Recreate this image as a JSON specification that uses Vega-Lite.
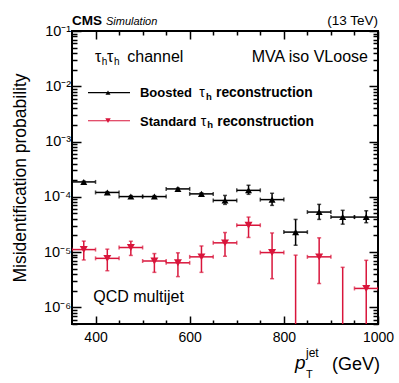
{
  "$schema": "https://vega.github.io/schema/vega-lite/v6.json",
  "width": 306,
  "height": 293,
  "autosize": "none",
  "padding": {"left": 72, "top": 31, "right": 21, "bottom": 59},
  "background": "white",
  "config": {
    "font": "Liberation Sans",
    "view": {"stroke": "black", "strokeWidth": 2},
    "axis": {"grid": false, "domain": false, "tickColor": "black", "tickWidth": 1.5, "labelColor": "black", "titleColor": "black", "labelFont": "Liberation Sans", "titleFont": "Liberation Sans", "labelOverlap": false, "labelFlush": false},
    "text": {"font": "Liberation Sans", "color": "black"}
  },
  "datasets": {
    "pts": [
      {"series": "Boosted", "x": 375, "xlo": 350, "xhi": 400, "y": 1.86e-4, "ylo": 1.80e-4, "yhi": 1.92e-4},
      {"series": "Boosted", "x": 425, "xlo": 400, "xhi": 450, "y": 1.20e-4, "ylo": 1.16e-4, "yhi": 1.24e-4},
      {"series": "Boosted", "x": 475, "xlo": 450, "xhi": 500, "y": 1.01e-4, "ylo": 0.97e-4, "yhi": 1.05e-4},
      {"series": "Boosted", "x": 525, "xlo": 500, "xhi": 550, "y": 1.01e-4, "ylo": 0.97e-4, "yhi": 1.05e-4},
      {"series": "Boosted", "x": 575, "xlo": 550, "xhi": 600, "y": 1.39e-4, "ylo": 1.34e-4, "yhi": 1.44e-4},
      {"series": "Boosted", "x": 625, "xlo": 600, "xhi": 650, "y": 1.13e-4, "ylo": 1.08e-4, "yhi": 1.18e-4},
      {"series": "Boosted", "x": 675, "xlo": 650, "xhi": 700, "y": 8.6e-5, "ylo": 7.3e-5, "yhi": 1.06e-4},
      {"series": "Boosted", "x": 725, "xlo": 700, "xhi": 750, "y": 1.31e-4, "ylo": 1.11e-4, "yhi": 1.62e-4},
      {"series": "Boosted", "x": 775, "xlo": 750, "xhi": 800, "y": 8.9e-5, "ylo": 7.0e-5, "yhi": 1.16e-4},
      {"series": "Boosted", "x": 825, "xlo": 800, "xhi": 850, "y": 2.3e-5, "ylo": 1.33e-5, "yhi": 3.9e-5},
      {"series": "Boosted", "x": 875, "xlo": 850, "xhi": 900, "y": 5.3e-5, "ylo": 3.9e-5, "yhi": 7.3e-5},
      {"series": "Boosted", "x": 925, "xlo": 900, "xhi": 950, "y": 4.3e-5, "ylo": 3.2e-5, "yhi": 5.7e-5},
      {"series": "Boosted", "x": 975, "xlo": 950, "xhi": 1000, "y": 4.3e-5, "ylo": 3.4e-5, "yhi": 5.6e-5},
      {"series": "Standard", "x": 375, "xlo": 350, "xhi": 400, "y": 1.11e-5, "ylo": 7.2e-6, "yhi": 1.58e-5},
      {"series": "Standard", "x": 425, "xlo": 400, "xhi": 450, "y": 7.7e-6, "ylo": 4.6e-6, "yhi": 1.13e-5},
      {"series": "Standard", "x": 475, "xlo": 450, "xhi": 500, "y": 1.21e-5, "ylo": 8.7e-6, "yhi": 1.57e-5},
      {"series": "Standard", "x": 525, "xlo": 500, "xhi": 550, "y": 6.9e-6, "ylo": 4.3e-6, "yhi": 9.4e-6},
      {"series": "Standard", "x": 575, "xlo": 550, "xhi": 600, "y": 6.4e-6, "ylo": 3.6e-6, "yhi": 9.7e-6},
      {"series": "Standard", "x": 625, "xlo": 600, "xhi": 650, "y": 8.2e-6, "ylo": 4.3e-6, "yhi": 1.29e-5},
      {"series": "Standard", "x": 675, "xlo": 650, "xhi": 700, "y": 1.47e-5, "ylo": 8.4e-6, "yhi": 2.26e-5},
      {"series": "Standard", "x": 725, "xlo": 700, "xhi": 750, "y": 3.06e-5, "ylo": 1.84e-5, "yhi": 4.3e-5},
      {"series": "Standard", "x": 775, "xlo": 750, "xhi": 800, "y": 9.8e-6, "ylo": 3.3e-6, "yhi": 2.22e-5},
      {"series": "Standard", "x": 825, "xlo": 800, "xhi": 850, "y": null, "ylo": 1e-8, "yhi": 8.8e-6},
      {"series": "Standard", "x": 875, "xlo": 850, "xhi": 900, "y": 8.2e-6, "ylo": 2.7e-6, "yhi": 1.81e-5},
      {"series": "Standard", "x": 925, "xlo": 900, "xhi": 950, "y": null, "ylo": 1e-8, "yhi": 5.3e-6},
      {"series": "Standard", "x": 975, "xlo": 950, "xhi": 1000, "y": 2.2e-6, "ylo": 1e-8, "yhi": 7.1e-6}
    ]
  },
  "resolve": {"axis": {"x": "independent", "y": "independent"}},
  "layer": [
    {
      "data": {"name": "pts"},
      "mark": {"type": "rule", "strokeWidth": 1.5, "clip": true},
      "encoding": {
        "x": {"field": "xlo", "type": "quantitative", "scale": {"domain": [350, 1000], "nice": false, "zero": false},
          "axis": {"orient": "bottom", "values": [400,450,500,550,600,650,700,750,800,850,900,950,1000], "format": "d",
            "tickSize": {"condition": {"test": "datum.value % 200 == 0", "value": -8}, "value": -4},
            "labelExpr": "datum.value % 200 == 0 ? datum.label : ''", "labelPadding": 14.7, "labelFontSize": 14, "title": null}},
        "x2": {"field": "xhi"},
        "y": {"field": "y", "type": "quantitative", "scale": {"type": "log", "domain": [5e-7, 0.1], "nice": false},
          "axis": {"orient": "left",
            "values": [5e-7,6e-7,7e-7,8e-7,9e-7,1e-6,2e-6,3e-6,4e-6,5e-6,6e-6,7e-6,8e-6,9e-6,1e-5,2e-5,3e-5,4e-5,5e-5,6e-5,7e-5,8e-5,9e-5,1e-4,2e-4,3e-4,4e-4,5e-4,6e-4,7e-4,8e-4,9e-4,1e-3,2e-3,3e-3,4e-3,5e-3,6e-3,7e-3,8e-3,9e-3,0.01,0.02,0.03,0.04,0.05,0.06,0.07,0.08,0.09,0.1],
            "tickSize": {"condition": {"test": "abs(log(datum.value)/LN10 - round(log(datum.value)/LN10)) < 0.01", "value": -9}, "value": -5},
            "labelExpr": "abs(log(datum.value)/LN10 - round(log(datum.value)/LN10)) < 0.01 ? '10' + ['⁰','⁻¹','⁻²','⁻³','⁻⁴','⁻⁵','⁻⁶','⁻⁷'][-round(log(datum.value)/LN10)] : ''",
            "labelPadding": 10.3, "labelFontSize": 14.5,
            "title": "Misidentification probability", "titleFontSize": 17.5, "titleFontWeight": "normal", "titleX": -47, "titleBaseline": "alphabetic", "titleAngle": 270}},
        "color": {"field": "series", "type": "nominal", "scale": {"domain": ["Boosted", "Standard"], "range": ["black", "#d9153b"]}, "legend": null}
      }
    },
    {
      "data": {"name": "pts"},
      "mark": {"type": "rule", "strokeWidth": 1.5, "clip": true},
      "encoding": {
        "x": {"field": "x", "type": "quantitative", "scale": {"domain": [350, 1000], "nice": false, "zero": false}, "axis": null},
        "y": {"field": "ylo", "type": "quantitative", "scale": {"type": "log", "domain": [5e-7, 0.1], "nice": false}, "axis": null},
        "y2": {"field": "yhi"},
        "color": {"field": "series", "type": "nominal", "scale": {"domain": ["Boosted", "Standard"], "range": ["black", "#d9153b"]}, "legend": null}
      }
    },
    {
      "data": {"name": "pts"},
      "mark": {"type": "tick", "orient": "horizontal", "size": 4, "thickness": 1.5, "clip": true},
      "encoding": {
        "x": {"field": "x", "type": "quantitative", "scale": {"domain": [350, 1000], "nice": false, "zero": false}, "axis": null},
        "y": {"field": "yhi", "type": "quantitative", "scale": {"type": "log", "domain": [5e-7, 0.1], "nice": false}, "axis": null},
        "color": {"field": "series", "type": "nominal", "scale": {"domain": ["Boosted", "Standard"], "range": ["black", "#d9153b"]}, "legend": null}
      }
    },
    {
      "data": {"name": "pts"},
      "mark": {"type": "tick", "orient": "horizontal", "size": 4, "thickness": 1.5, "clip": true},
      "encoding": {
        "x": {"field": "x", "type": "quantitative", "scale": {"domain": [350, 1000], "nice": false, "zero": false}, "axis": null},
        "y": {"field": "ylo", "type": "quantitative", "scale": {"type": "log", "domain": [5e-7, 0.1], "nice": false}, "axis": null},
        "color": {"field": "series", "type": "nominal", "scale": {"domain": ["Boosted", "Standard"], "range": ["black", "#d9153b"]}, "legend": null}
      }
    },
    {
      "data": {"name": "pts"},
      "mark": {"type": "tick", "orient": "vertical", "size": 4, "thickness": 1.5, "clip": true},
      "encoding": {
        "x": {"field": "xlo", "type": "quantitative", "scale": {"domain": [350, 1000], "nice": false, "zero": false}, "axis": null},
        "y": {"field": "y", "type": "quantitative", "scale": {"type": "log", "domain": [5e-7, 0.1], "nice": false}, "axis": null},
        "color": {"field": "series", "type": "nominal", "scale": {"domain": ["Boosted", "Standard"], "range": ["black", "#d9153b"]}, "legend": null}
      }
    },
    {
      "data": {"name": "pts"},
      "mark": {"type": "tick", "orient": "vertical", "size": 4, "thickness": 1.5, "clip": true},
      "encoding": {
        "x": {"field": "xhi", "type": "quantitative", "scale": {"domain": [350, 1000], "nice": false, "zero": false}, "axis": null},
        "y": {"field": "y", "type": "quantitative", "scale": {"type": "log", "domain": [5e-7, 0.1], "nice": false}, "axis": null},
        "color": {"field": "series", "type": "nominal", "scale": {"domain": ["Boosted", "Standard"], "range": ["black", "#d9153b"]}, "legend": null}
      }
    },
    {
      "data": {"name": "pts"},
      "mark": {"type": "point", "filled": true, "opacity": 1, "clip": true},
      "encoding": {
        "x": {"field": "x", "type": "quantitative", "scale": {"domain": [350, 1000], "nice": false, "zero": false}, "axis": null},
        "y": {"field": "y", "type": "quantitative", "scale": {"type": "log", "domain": [5e-7, 0.1], "nice": false}, "axis": null},
        "color": {"field": "series", "type": "nominal", "scale": {"domain": ["Boosted", "Standard"], "range": ["black", "#d9153b"]}, "legend": null},
        "shape": {"field": "series", "type": "nominal", "scale": {"domain": ["Boosted", "Standard"], "range": ["triangle-up", "triangle-down"]}, "legend": null},
        "size": {"field": "series", "type": "nominal", "scale": {"domain": ["Boosted", "Standard"], "range": [49, 64]}, "legend": null}
      }
    },
    {
      "data": {"name": "pts"},
      "mark": {"type": "point", "opacity": 0},
      "encoding": {
        "x": {"field": "x", "type": "quantitative", "scale": {"domain": [350, 1000], "nice": false, "zero": false},
          "axis": {"orient": "top", "values": [400,450,500,550,600,650,700,750,800,850,900,950,1000],
            "tickSize": {"condition": {"test": "datum.value % 200 == 0", "value": -8}, "value": -4}, "labels": false, "title": null}},
        "y": {"field": "yhi", "type": "quantitative", "scale": {"type": "log", "domain": [5e-7, 0.1], "nice": false},
          "axis": {"orient": "right",
            "values": [5e-7,6e-7,7e-7,8e-7,9e-7,1e-6,2e-6,3e-6,4e-6,5e-6,6e-6,7e-6,8e-6,9e-6,1e-5,2e-5,3e-5,4e-5,5e-5,6e-5,7e-5,8e-5,9e-5,1e-4,2e-4,3e-4,4e-4,5e-4,6e-4,7e-4,8e-4,9e-4,1e-3,2e-3,3e-3,4e-3,5e-3,6e-3,7e-3,8e-3,9e-3,0.01,0.02,0.03,0.04,0.05,0.06,0.07,0.08,0.09,0.1],
            "tickSize": {"condition": {"test": "abs(log(datum.value)/LN10 - round(log(datum.value)/LN10)) < 0.01", "value": -9}, "value": -5}, "labels": false, "title": null}}
      }
    },
    {
      "data": {"values": [{}]},
      "mark": {"type": "rule", "strokeWidth": 1.2, "color": "black"},
      "encoding": {
        "x": {"datum": 384, "type": "quantitative", "scale": {"domain": [350, 1000], "nice": false, "zero": false}, "axis": null},
        "x2": {"datum": 473.2},
        "y": {"datum": 0.00766, "type": "quantitative", "scale": {"type": "log", "domain": [5e-7, 0.1], "nice": false}, "axis": null}
      }
    },
    {
      "data": {"values": [{}]},
      "mark": {"type": "point", "shape": "triangle-up", "filled": true, "opacity": 1, "size": 25, "color": "black"},
      "encoding": {
        "x": {"datum": 426.5, "type": "quantitative", "scale": {"domain": [350, 1000], "nice": false, "zero": false}, "axis": null},
        "y": {"datum": 0.00766, "type": "quantitative", "scale": {"type": "log", "domain": [5e-7, 0.1], "nice": false}, "axis": null}
      }
    },
    {
      "data": {"values": [{}]},
      "mark": {"type": "rule", "strokeWidth": 1.2, "color": "#d9153b"},
      "encoding": {
        "x": {"datum": 384, "type": "quantitative", "scale": {"domain": [350, 1000], "nice": false, "zero": false}, "axis": null},
        "x2": {"datum": 473.2},
        "y": {"datum": 0.00238, "type": "quantitative", "scale": {"type": "log", "domain": [5e-7, 0.1], "nice": false}, "axis": null}
      }
    },
    {
      "data": {"values": [{}]},
      "mark": {"type": "point", "shape": "triangle-down", "filled": true, "opacity": 1, "size": 30, "color": "#d9153b"},
      "encoding": {
        "x": {"datum": 426.5, "type": "quantitative", "scale": {"domain": [350, 1000], "nice": false, "zero": false}, "axis": null},
        "y": {"datum": 0.00238, "type": "quantitative", "scale": {"type": "log", "domain": [5e-7, 0.1], "nice": false}, "axis": null}
      }
    },
    {"data": {"values": [{}]}, "mark": {"type": "text", "align": "left", "baseline": "alphabetic", "fontSize": 13.5, "fontWeight": "bold"},
      "encoding": {"x": {"datum": 350, "type": "quantitative", "scale": {"domain": [350, 1000], "nice": false, "zero": false}, "axis": null}, "y": {"datum": 0.1284, "type": "quantitative", "scale": {"type": "log", "domain": [5e-7, 0.1], "nice": false}, "axis": null}, "text": {"value": "CMS"}}},
    {"data": {"values": [{}]}, "mark": {"type": "text", "align": "left", "baseline": "alphabetic", "fontSize": 11, "fontStyle": "italic"},
      "encoding": {"x": {"datum": 422.2, "type": "quantitative", "scale": {"domain": [350, 1000], "nice": false, "zero": false}, "axis": null}, "y": {"datum": 0.1284, "type": "quantitative", "scale": {"type": "log", "domain": [5e-7, 0.1], "nice": false}, "axis": null}, "text": {"value": "Simulation"}}},
    {"data": {"values": [{}]}, "mark": {"type": "text", "align": "right", "baseline": "alphabetic", "fontSize": 13.5},
      "encoding": {"x": {"datum": 1000, "type": "quantitative", "scale": {"domain": [350, 1000], "nice": false, "zero": false}, "axis": null}, "y": {"datum": 0.1284, "type": "quantitative", "scale": {"type": "log", "domain": [5e-7, 0.1], "nice": false}, "axis": null}, "text": {"value": "(13 TeV)"}}},
    {"data": {"values": [{}]}, "mark": {"type": "text", "align": "left", "baseline": "alphabetic", "fontSize": 16},
      "encoding": {"x": {"datum": 398.9, "type": "quantitative", "scale": {"domain": [350, 1000], "nice": false, "zero": false}, "axis": null}, "y": {"datum": 0.0275, "type": "quantitative", "scale": {"type": "log", "domain": [5e-7, 0.1], "nice": false}, "axis": null}, "text": {"value": "τ"}}},
    {"data": {"values": [{}]}, "mark": {"type": "text", "align": "left", "baseline": "alphabetic", "fontSize": 10},
      "encoding": {"x": {"datum": 413.1, "type": "quantitative", "scale": {"domain": [350, 1000], "nice": false, "zero": false}, "axis": null}, "y": {"datum": 0.02377, "type": "quantitative", "scale": {"type": "log", "domain": [5e-7, 0.1], "nice": false}, "axis": null}, "text": {"value": "h"}}},
    {"data": {"values": [{}]}, "mark": {"type": "text", "align": "left", "baseline": "alphabetic", "fontSize": 16},
      "encoding": {"x": {"datum": 424.3, "type": "quantitative", "scale": {"domain": [350, 1000], "nice": false, "zero": false}, "axis": null}, "y": {"datum": 0.0275, "type": "quantitative", "scale": {"type": "log", "domain": [5e-7, 0.1], "nice": false}, "axis": null}, "text": {"value": "τ"}}},
    {"data": {"values": [{}]}, "mark": {"type": "text", "align": "left", "baseline": "alphabetic", "fontSize": 10},
      "encoding": {"x": {"datum": 439.2, "type": "quantitative", "scale": {"domain": [350, 1000], "nice": false, "zero": false}, "axis": null}, "y": {"datum": 0.02377, "type": "quantitative", "scale": {"type": "log", "domain": [5e-7, 0.1], "nice": false}, "axis": null}, "text": {"value": "h"}}},
    {"data": {"values": [{}]}, "mark": {"type": "text", "align": "left", "baseline": "alphabetic", "fontSize": 16},
      "encoding": {"x": {"datum": 467.5, "type": "quantitative", "scale": {"domain": [350, 1000], "nice": false, "zero": false}, "axis": null}, "y": {"datum": 0.0275, "type": "quantitative", "scale": {"type": "log", "domain": [5e-7, 0.1], "nice": false}, "axis": null}, "text": {"value": "channel"}}},
    {"data": {"values": [{}]}, "mark": {"type": "text", "align": "right", "baseline": "alphabetic", "fontSize": 16},
      "encoding": {"x": {"datum": 978.7, "type": "quantitative", "scale": {"domain": [350, 1000], "nice": false, "zero": false}, "axis": null}, "y": {"datum": 0.0275, "type": "quantitative", "scale": {"type": "log", "domain": [5e-7, 0.1], "nice": false}, "axis": null}, "text": {"value": "MVA iso VLoose"}}},
    {"data": {"values": [{}]}, "mark": {"type": "text", "align": "left", "baseline": "alphabetic", "fontSize": 13, "fontWeight": "bold"},
      "encoding": {"x": {"datum": 494.4, "type": "quantitative", "scale": {"domain": [350, 1000], "nice": false, "zero": false}, "axis": null}, "y": {"datum": 0.00631, "type": "quantitative", "scale": {"type": "log", "domain": [5e-7, 0.1], "nice": false}, "axis": null}, "text": {"value": "Boosted"}}},
    {"data": {"values": [{}]}, "mark": {"type": "text", "align": "left", "baseline": "alphabetic", "fontSize": 14},
      "encoding": {"x": {"datum": 620.4, "type": "quantitative", "scale": {"domain": [350, 1000], "nice": false, "zero": false}, "axis": null}, "y": {"datum": 0.00631, "type": "quantitative", "scale": {"type": "log", "domain": [5e-7, 0.1], "nice": false}, "axis": null}, "text": {"value": "τ"}}},
    {"data": {"values": [{}]}, "mark": {"type": "text", "align": "left", "baseline": "alphabetic", "fontSize": 9.5, "fontWeight": "bold"},
      "encoding": {"x": {"datum": 634.6, "type": "quantitative", "scale": {"domain": [350, 1000], "nice": false, "zero": false}, "axis": null}, "y": {"datum": 0.00565, "type": "quantitative", "scale": {"type": "log", "domain": [5e-7, 0.1], "nice": false}, "axis": null}, "text": {"value": "h"}}},
    {"data": {"values": [{}]}, "mark": {"type": "text", "align": "left", "baseline": "alphabetic", "fontSize": 13.8, "fontWeight": "bold"},
      "encoding": {"x": {"datum": 655.9, "type": "quantitative", "scale": {"domain": [350, 1000], "nice": false, "zero": false}, "axis": null}, "y": {"datum": 0.00631, "type": "quantitative", "scale": {"type": "log", "domain": [5e-7, 0.1], "nice": false}, "axis": null}, "text": {"value": "reconstruction"}}},
    {"data": {"values": [{}]}, "mark": {"type": "text", "align": "left", "baseline": "alphabetic", "fontSize": 13, "fontWeight": "bold"},
      "encoding": {"x": {"datum": 494.4, "type": "quantitative", "scale": {"domain": [350, 1000], "nice": false, "zero": false}, "axis": null}, "y": {"datum": 0.001936, "type": "quantitative", "scale": {"type": "log", "domain": [5e-7, 0.1], "nice": false}, "axis": null}, "text": {"value": "Standard"}}},
    {"data": {"values": [{}]}, "mark": {"type": "text", "align": "left", "baseline": "alphabetic", "fontSize": 14},
      "encoding": {"x": {"datum": 623.4, "type": "quantitative", "scale": {"domain": [350, 1000], "nice": false, "zero": false}, "axis": null}, "y": {"datum": 0.001936, "type": "quantitative", "scale": {"type": "log", "domain": [5e-7, 0.1], "nice": false}, "axis": null}, "text": {"value": "τ"}}},
    {"data": {"values": [{}]}, "mark": {"type": "text", "align": "left", "baseline": "alphabetic", "fontSize": 9.5, "fontWeight": "bold"},
      "encoding": {"x": {"datum": 637.4, "type": "quantitative", "scale": {"domain": [350, 1000], "nice": false, "zero": false}, "axis": null}, "y": {"datum": 0.00174, "type": "quantitative", "scale": {"type": "log", "domain": [5e-7, 0.1], "nice": false}, "axis": null}, "text": {"value": "h"}}},
    {"data": {"values": [{}]}, "mark": {"type": "text", "align": "left", "baseline": "alphabetic", "fontSize": 13.8, "fontWeight": "bold"},
      "encoding": {"x": {"datum": 658.7, "type": "quantitative", "scale": {"domain": [350, 1000], "nice": false, "zero": false}, "axis": null}, "y": {"datum": 0.001936, "type": "quantitative", "scale": {"type": "log", "domain": [5e-7, 0.1], "nice": false}, "axis": null}, "text": {"value": "reconstruction"}}},
    {"data": {"values": [{}]}, "mark": {"type": "text", "align": "left", "baseline": "alphabetic", "fontSize": 16},
      "encoding": {"x": {"datum": 395.2, "type": "quantitative", "scale": {"domain": [350, 1000], "nice": false, "zero": false}, "axis": null}, "y": {"datum": 1.233e-6, "type": "quantitative", "scale": {"type": "log", "domain": [5e-7, 0.1], "nice": false}, "axis": null}, "text": {"value": "QCD multijet"}}},
    {"data": {"values": [{}]}, "mark": {"type": "text", "align": "left", "baseline": "alphabetic", "fontSize": 19, "fontStyle": "italic"},
      "encoding": {"x": {"datum": 823.7, "type": "quantitative", "scale": {"domain": [350, 1000], "nice": false, "zero": false}, "axis": null}, "y": {"datum": 7.67e-8, "type": "quantitative", "scale": {"type": "log", "domain": [5e-7, 0.1], "nice": false}, "axis": null}, "text": {"value": "p"}}},
    {"data": {"values": [{}]}, "mark": {"type": "text", "align": "left", "baseline": "alphabetic", "fontSize": 12},
      "encoding": {"x": {"datum": 847, "type": "quantitative", "scale": {"domain": [350, 1000], "nice": false, "zero": false}, "axis": null}, "y": {"datum": 1.28e-7, "type": "quantitative", "scale": {"type": "log", "domain": [5e-7, 0.1], "nice": false}, "axis": null}, "text": {"value": "jet"}}},
    {"data": {"values": [{}]}, "mark": {"type": "text", "align": "left", "baseline": "alphabetic", "fontSize": 11},
      "encoding": {"x": {"datum": 847, "type": "quantitative", "scale": {"domain": [350, 1000], "nice": false, "zero": false}, "axis": null}, "y": {"datum": 5.2e-8, "type": "quantitative", "scale": {"type": "log", "domain": [5e-7, 0.1], "nice": false}, "axis": null}, "text": {"value": "T"}}},
    {"data": {"values": [{}]}, "mark": {"type": "text", "align": "right", "baseline": "alphabetic", "fontSize": 18},
      "encoding": {"x": {"datum": 1004.2, "type": "quantitative", "scale": {"domain": [350, 1000], "nice": false, "zero": false}, "axis": null}, "y": {"datum": 7.5e-8, "type": "quantitative", "scale": {"type": "log", "domain": [5e-7, 0.1], "nice": false}, "axis": null}, "text": {"value": "(GeV)"}}}
  ]
}
